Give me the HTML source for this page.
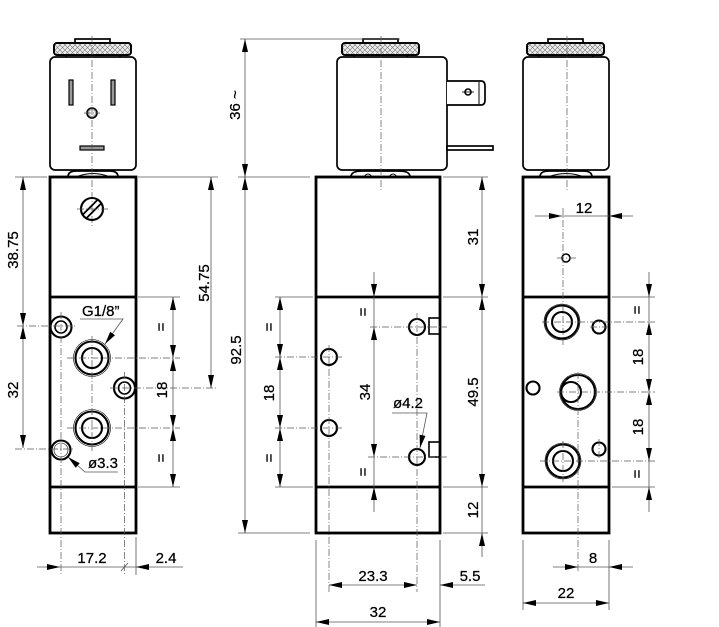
<!DOCTYPE html>
<html><head><meta charset="utf-8"><style>
html,body{margin:0;padding:0;background:#fff}
svg{display:block}
text{font-family:"Liberation Sans",Arial,sans-serif;font-size:15px;fill:#000;stroke:#000;stroke-width:0.25}
.o{stroke:#000;stroke-width:2.8;fill:none}
.k{stroke:#000;stroke-width:1.7;fill:#fff}
.h{stroke:#000;stroke-width:2.1;fill:none}
.n{stroke:#000;stroke-width:0.6;fill:none}
.d{stroke:#555;stroke-width:0.8;fill:none}
.c{stroke:#555;stroke-width:0.7;fill:none;stroke-dasharray:7 2 1 2}
.a{fill:#000}
</style></head><body>
<svg width="719" height="627" viewBox="0 0 719 627" xmlns="http://www.w3.org/2000/svg">
<defs>
<pattern id="kn" width="5" height="5" patternUnits="userSpaceOnUse">
<rect width="5" height="5" fill="#ececec"/>
<path d="M0,0 L5,5 M5,0 L0,5" stroke="#777" stroke-width="0.6"/>
</pattern>
</defs>

<!-- ================= LEFT VIEW ================= -->
<rect x="75" y="39" width="35" height="5" class="k" stroke-width="1.2"/>
<rect x="54" y="43" width="77" height="12" rx="3" fill="url(#kn)" stroke="#000" stroke-width="2"/>
<line x1="66" y1="55" x2="66" y2="58" stroke="#000" stroke-width="1.5"/>
<line x1="120" y1="55" x2="120" y2="58" stroke="#000" stroke-width="1.5"/>
<rect x="50" y="57" width="86" height="113" rx="5" class="k"/>
<rect x="69" y="80" width="4" height="25" fill="#999" stroke="#000" stroke-width="1.2"/>
<rect x="111" y="80" width="4" height="25" fill="#999" stroke="#000" stroke-width="1.2"/>
<circle cx="92" cy="113" r="5" fill="none" stroke="#000" stroke-width="1.6"/>
<circle cx="92" cy="113" r="3.5" fill="none" stroke="#999" stroke-width="1"/>
<rect x="80" y="146" width="24" height="4" fill="#999" stroke="#000" stroke-width="1.2"/>
<path d="M68,177 C68,172 72,171 76,171 L110,171 C114,171 118,172 118,177" class="k" stroke-width="1.5"/>
<path d="M76,177 Q93,170 110,177" fill="none" stroke="#000" stroke-width="1"/>
<line x1="92" y1="36" x2="92" y2="228" class="c"/>
<line x1="84" y1="113" x2="100" y2="113" class="c"/>

<rect x="50" y="177" width="86" height="356" class="o"/>
<line x1="50" y1="297" x2="136" y2="297" class="o"/>
<line x1="50" y1="487" x2="136" y2="487" class="o"/>

<circle cx="92" cy="209" r="11" class="h"/>
<line x1="82.9" y1="214.5" x2="97.5" y2="199.9" stroke="#000" stroke-width="1.8"/>
<line x1="86.5" y1="218.1" x2="101.1" y2="203.5" stroke="#000" stroke-width="1.8"/>
<line x1="77" y1="209" x2="108" y2="209" class="c"/>

<!-- holes left view -->
<circle cx="61" cy="327" r="10.5" class="h"/>
<circle cx="61" cy="327" r="6" stroke="#000" stroke-width="1.6" fill="none"/>
<circle cx="92" cy="358" r="18.5" class="n"/>
<circle cx="92" cy="358" r="16.5" class="h"/>
<circle cx="92" cy="358" r="10" class="h"/>
<circle cx="124.5" cy="388" r="10.5" class="h"/>
<circle cx="124.5" cy="388" r="6" stroke="#000" stroke-width="1.6" fill="none"/>
<circle cx="92" cy="428" r="18.5" class="n"/>
<circle cx="92" cy="428" r="16.5" class="h"/>
<circle cx="92" cy="428" r="10" class="h"/>
<circle cx="61" cy="450" r="9.5" class="h"/>
<circle cx="61" cy="450" r="7" class="n"/>

<!-- center lines left -->
<line x1="17" y1="326" x2="75" y2="326" class="c"/>
<line x1="67" y1="358" x2="180" y2="358" class="c"/>
<line x1="110" y1="388" x2="218" y2="388" class="c"/>
<line x1="67" y1="428" x2="180" y2="428" class="c"/>
<line x1="15" y1="449" x2="75" y2="449" class="c"/>
<line x1="61" y1="312" x2="61" y2="575" class="c"/>
<line x1="124.5" y1="372" x2="124.5" y2="575" class="c"/>
<line x1="92" y1="336" x2="92" y2="452" class="c"/>

<!-- dims left -->
<line x1="15" y1="177" x2="47" y2="177" class="d"/>
<line x1="138" y1="177" x2="218" y2="177" class="d"/>
<line x1="138" y1="297" x2="180" y2="297" class="d"/>
<line x1="138" y1="487" x2="180" y2="487" class="d"/>
<line x1="23" y1="177" x2="23" y2="448" class="d"/>
<line x1="211" y1="177" x2="211" y2="388" class="d"/>
<line x1="173" y1="297" x2="173" y2="487" class="d"/>
<polygon class="a" points="23,177 20,190 26,190"/>
<polygon class="a" points="23,326 20,313 26,313"/>
<polygon class="a" points="23,326 20,339 26,339"/>
<polygon class="a" points="23,448 20,435 26,435"/>
<polygon class="a" points="211,177 208,190 214,190"/>
<polygon class="a" points="211,388 208,375 214,375"/>
<polygon class="a" points="173,297 170,310 176,310"/>
<polygon class="a" points="173,358 170,345 176,345"/>
<polygon class="a" points="173,358 170,371 176,371"/>
<polygon class="a" points="173,428 170,415 176,415"/>
<polygon class="a" points="173,428 170,441 176,441"/>
<polygon class="a" points="173,487 170,474 176,474"/>
<text transform="translate(13,250) rotate(-90)" x="0" y="5" text-anchor="middle">38.75</text>
<text transform="translate(13,390) rotate(-90)" x="0" y="5" text-anchor="middle">32</text>
<text transform="translate(204,283) rotate(-90)" x="0" y="5" text-anchor="middle">54.75</text>
<text transform="translate(161,327) rotate(-90)" x="0" y="5" text-anchor="middle">=</text>
<text transform="translate(162,390) rotate(-90)" x="0" y="5" text-anchor="middle">18</text>
<text transform="translate(161,458) rotate(-90)" x="0" y="5" text-anchor="middle">=</text>

<!-- G1/8 label -->
<text x="82" y="316">G1/8”</text>
<polyline points="80,319 123,319 105,344" class="d" stroke="#333"/>
<polygon class="a" points="105,344 115,335.2 110.2,331.7"/>
<!-- ø3.3 label -->
<text x="88" y="468">ø3.3</text>
<polyline points="118,472 85,472 68,457" class="d" stroke="#333"/>
<polygon class="a" points="68,457 79.7,463.3 75.7,467.8"/>

<!-- bottom dims left -->
<line x1="136" y1="537" x2="136" y2="575" class="d"/>
<line x1="37" y1="567" x2="183" y2="567" class="d"/>
<line x1="121" y1="571" x2="128" y2="563" class="d"/>
<polygon class="a" points="60,567 47,564 47,570"/>
<polygon class="a" points="136,567 149,564 149,570"/>
<text x="92" y="563" text-anchor="middle">17.2</text>
<text x="166" y="563" text-anchor="middle">2.4</text>

<!-- ================= MIDDLE VIEW ================= -->
<rect x="363" y="39" width="35" height="5" class="k" stroke-width="1.2"/>
<rect x="342" y="43" width="77" height="12" rx="3" fill="url(#kn)" stroke="#000" stroke-width="2"/>
<line x1="354" y1="55" x2="354" y2="58" stroke="#000" stroke-width="1.5"/>
<line x1="407" y1="55" x2="407" y2="58" stroke="#000" stroke-width="1.5"/>
<rect x="337" y="57" width="110" height="113" rx="5" class="k"/>
<path d="M447,81 H481 Q485,81 485,86 V100 Q485,105 481,105 H447" class="k" stroke-width="1.6"/>
<line x1="479" y1="82" x2="479" y2="104" stroke="#000" stroke-width="1"/>
<circle cx="468" cy="92" r="3" fill="none" stroke="#000" stroke-width="1.6"/>
<line x1="462" y1="92" x2="474" y2="92" stroke="#000" stroke-width="0.8"/>
<rect x="447" y="146" width="46" height="4" class="k" stroke-width="1.4"/>
<path d="M351,177 C351,172 356,171 362,171 L399,171 C405,171 410,172 410,177" class="k" stroke-width="1.5"/>
<path d="M364,177 Q368,171 372,177 M389,177 Q393,171 397,177" fill="none" stroke="#000" stroke-width="1"/>
<line x1="381" y1="36" x2="381" y2="190" class="c"/>

<rect x="316" y="177" width="124" height="356" class="o"/>
<line x1="316" y1="297" x2="440" y2="297" class="o"/>
<line x1="316" y1="487" x2="440" y2="487" class="o"/>

<circle cx="417" cy="327" r="8" class="h"/>
<circle cx="329" cy="357" r="8" class="h"/>
<circle cx="329" cy="428" r="8" class="h"/>
<circle cx="417" cy="457" r="8" class="h"/>
<rect x="429" y="318" width="11" height="16" fill="none" stroke="#000" stroke-width="1.6"/>
<rect x="429" y="442" width="11" height="15" fill="none" stroke="#000" stroke-width="1.6"/>

<line x1="329" y1="345" x2="329" y2="592" class="c"/>
<line x1="417" y1="313" x2="417" y2="592" class="c"/>
<line x1="370" y1="327" x2="447" y2="327" class="c"/>
<line x1="275" y1="357" x2="343" y2="357" class="c"/>
<line x1="275" y1="428" x2="343" y2="428" class="c"/>
<line x1="368" y1="457" x2="447" y2="457" class="c"/>

<!-- dims middle -->
<line x1="240" y1="39" x2="400" y2="39" class="d"/>
<line x1="238" y1="177" x2="310" y2="177" class="d"/>
<line x1="443" y1="177" x2="488" y2="177" class="d"/>
<line x1="238" y1="533" x2="310" y2="533" class="d"/>
<line x1="443" y1="533" x2="488" y2="533" class="d"/>
<line x1="443" y1="297" x2="488" y2="297" class="d"/>
<line x1="443" y1="487" x2="488" y2="487" class="d"/>
<line x1="275" y1="297" x2="313" y2="297" class="d"/>
<line x1="275" y1="487" x2="313" y2="487" class="d"/>
<line x1="245" y1="39" x2="245" y2="533" class="d"/>
<line x1="280" y1="297" x2="280" y2="487" class="d"/>
<line x1="374" y1="272" x2="374" y2="512" class="d"/>
<line x1="482" y1="177" x2="482" y2="557" class="d"/>
<polygon class="a" points="245,39 242,52 248,52"/>
<polygon class="a" points="245,177 242,164 248,164"/>
<polygon class="a" points="245,177 242,190 248,190"/>
<polygon class="a" points="245,533 242,520 248,520"/>
<polygon class="a" points="280,297 277,310 283,310"/>
<polygon class="a" points="280,357 277,344 283,344"/>
<polygon class="a" points="280,357 277,370 283,370"/>
<polygon class="a" points="280,428 277,415 283,415"/>
<polygon class="a" points="280,428 277,441 283,441"/>
<polygon class="a" points="280,487 277,474 283,474"/>
<polygon class="a" points="374,297 371,284 377,284"/>
<polygon class="a" points="374,327 371,340 377,340"/>
<polygon class="a" points="374,457 371,444 377,444"/>
<polygon class="a" points="374,487 371,500 377,500"/>
<polygon class="a" points="482,177 479,190 485,190"/>
<polygon class="a" points="482,297 479,284 485,284"/>
<polygon class="a" points="482,297 479,310 485,310"/>
<polygon class="a" points="482,487 479,474 485,474"/>
<polygon class="a" points="482,533 479,546 485,546"/>
<text transform="translate(235,105) rotate(-90)" x="0" y="5" text-anchor="middle">36 ~</text>
<text transform="translate(236,350) rotate(-90)" x="0" y="5" text-anchor="middle">92.5</text>
<text transform="translate(269,327) rotate(-90)" x="0" y="5" text-anchor="middle">=</text>
<text transform="translate(269,393) rotate(-90)" x="0" y="5" text-anchor="middle">18</text>
<text transform="translate(269,458) rotate(-90)" x="0" y="5" text-anchor="middle">=</text>
<text transform="translate(363,312) rotate(-90)" x="0" y="5" text-anchor="middle">=</text>
<text transform="translate(365,392) rotate(-90)" x="0" y="5" text-anchor="middle">34</text>
<text transform="translate(363,472) rotate(-90)" x="0" y="5" text-anchor="middle">=</text>
<text transform="translate(473,237) rotate(-90)" x="0" y="5" text-anchor="middle">31</text>
<text transform="translate(473,392) rotate(-90)" x="0" y="5" text-anchor="middle">49.5</text>
<text transform="translate(473,510) rotate(-90)" x="0" y="5" text-anchor="middle">12</text>

<text x="393" y="408">ø4.2</text>
<polyline points="392,413 427,413 420,448" class="d" stroke="#333"/>
<polygon class="a" points="420,448 425.5,435.9 419.6,434.7"/>

<!-- bottom dims middle -->
<line x1="316" y1="540" x2="316" y2="627" class="d"/>
<line x1="440" y1="540" x2="440" y2="627" class="d"/>
<line x1="329" y1="585" x2="417" y2="585" class="d"/>
<line x1="440" y1="585" x2="485" y2="585" class="d"/>
<polygon class="a" points="329,585 342,582 342,588"/>
<polygon class="a" points="417,585 404,582 404,588"/>
<polygon class="a" points="440,585 453,582 453,588"/>
<line x1="316" y1="622" x2="440" y2="622" class="d"/>
<polygon class="a" points="316,622 329,619 329,625"/>
<polygon class="a" points="440,622 427,619 427,625"/>
<text x="373" y="581" text-anchor="middle">23.3</text>
<text x="470" y="581" text-anchor="middle">5.5</text>
<text x="378" y="617" text-anchor="middle">32</text>

<!-- ================= RIGHT VIEW ================= -->
<rect x="548" y="39" width="35" height="5" class="k" stroke-width="1.2"/>
<rect x="527" y="43" width="77" height="12" rx="3" fill="url(#kn)" stroke="#000" stroke-width="2"/>
<line x1="539" y1="55" x2="539" y2="58" stroke="#000" stroke-width="1.5"/>
<line x1="593" y1="55" x2="593" y2="58" stroke="#000" stroke-width="1.5"/>
<rect x="523" y="57" width="86" height="113" rx="5" class="k"/>
<path d="M540,177 C540,172 544,171 549,171 L583,171 C588,171 592,172 592,177" class="k" stroke-width="1.5"/>
<path d="M548,177 Q566,170 584,177" fill="none" stroke="#000" stroke-width="1"/>
<line x1="567" y1="36" x2="567" y2="190" class="c"/>

<rect x="523" y="177" width="86" height="356" class="o"/>
<line x1="523" y1="297" x2="609" y2="297" class="o"/>
<line x1="523" y1="487" x2="609" y2="487" class="o"/>

<circle cx="566" cy="258" r="4" fill="none" stroke="#000" stroke-width="1.6"/>
<line x1="557" y1="258" x2="576" y2="258" class="c"/>
<line x1="563" y1="208" x2="563" y2="345" class="c"/>

<circle cx="562" cy="322" r="18" class="n"/>
<circle cx="562" cy="322" r="16.5" class="h"/>
<circle cx="562" cy="322" r="10" class="h"/>
<circle cx="599" cy="327" r="6.5" class="h"/>
<circle cx="578" cy="392" r="18.5" class="n"/>
<circle cx="578" cy="392" r="17" class="h"/>
<circle cx="571" cy="392" r="10" class="h"/>
<circle cx="533" cy="388" r="6.5" class="h"/>
<circle cx="563" cy="461" r="18" class="n"/>
<circle cx="563" cy="461" r="16.5" class="h"/>
<circle cx="563" cy="461" r="10" class="h"/>
<circle cx="599" cy="449" r="6.5" class="h"/>

<line x1="542" y1="322" x2="655" y2="322" class="c"/>
<line x1="557" y1="392" x2="655" y2="392" class="c"/>
<line x1="540" y1="461" x2="655" y2="461" class="c"/>
<line x1="590" y1="327" x2="608" y2="327" class="c"/>
<line x1="578" y1="372" x2="578" y2="573" class="c"/>
<line x1="563" y1="441" x2="563" y2="482" class="c"/>
<line x1="599" y1="439" x2="599" y2="459" class="c"/>

<!-- dims right -->
<line x1="535" y1="216" x2="633" y2="216" class="d"/>
<polygon class="a" points="562,216 549,213 549,219"/>
<polygon class="a" points="609,216 622,213 622,219"/>
<text x="584" y="213" text-anchor="middle">12</text>

<line x1="612" y1="297" x2="655" y2="297" class="d"/>
<line x1="612" y1="487" x2="655" y2="487" class="d"/>
<line x1="649" y1="272" x2="649" y2="512" class="d"/>
<polygon class="a" points="649,297 646,284 652,284"/>
<polygon class="a" points="649,322 646,335 652,335"/>
<polygon class="a" points="649,392 646,379 652,379"/>
<polygon class="a" points="649,392 646,405 652,405"/>
<polygon class="a" points="649,461 646,448 652,448"/>
<polygon class="a" points="649,487 646,500 652,500"/>
<text transform="translate(637,310) rotate(-90)" x="0" y="5" text-anchor="middle">=</text>
<text transform="translate(638,357) rotate(-90)" x="0" y="5" text-anchor="middle">18</text>
<text transform="translate(638,427) rotate(-90)" x="0" y="5" text-anchor="middle">18</text>
<text transform="translate(637,474) rotate(-90)" x="0" y="5" text-anchor="middle">=</text>

<line x1="523" y1="540" x2="523" y2="610" class="d"/>
<line x1="609" y1="540" x2="609" y2="610" class="d"/>
<line x1="553" y1="567" x2="633" y2="567" class="d"/>
<polygon class="a" points="578,567 565,564 565,570"/>
<polygon class="a" points="609,567 622,564 622,570"/>
<text x="593" y="563" text-anchor="middle">8</text>
<line x1="523" y1="603" x2="609" y2="603" class="d"/>
<polygon class="a" points="523,603 536,600 536,606"/>
<polygon class="a" points="609,603 596,600 596,606"/>
<text x="566" y="598" text-anchor="middle">22</text>
</svg>
</body></html>
